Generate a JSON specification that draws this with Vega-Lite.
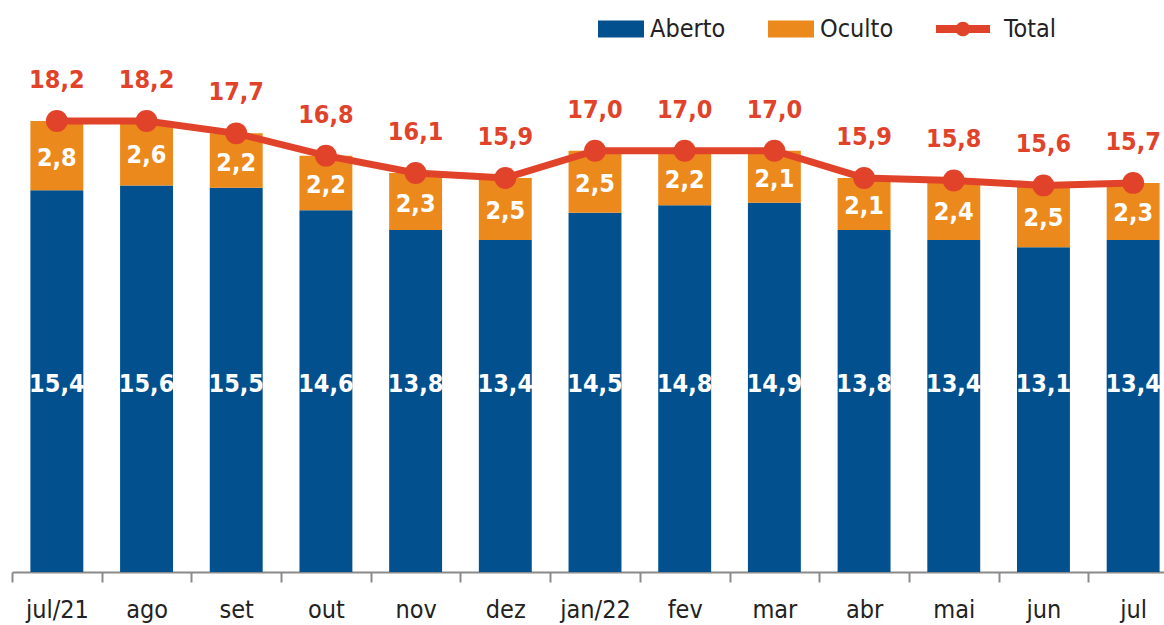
{
  "$schema": "https://vega.github.io/schema/vega-lite/v6.json",
  "width": 1152,
  "height": 570,
  "autosize": {"type": "none"},
  "padding": {"left": 12, "top": 2, "right": 0, "bottom": 53},
  "background": "white",
  "config": {
    "view": {"stroke": null},
    "locale": {"number": {"decimal": ",", "thousands": ".", "grouping": [3], "currency": ["R$", ""]}},
    "font": "DejaVu Sans Condensed"
  },
  "data": {
    "values": [
      {"mes": "jul/21", "Aberto": 15.4, "Oculto": 2.8, "Total": 18.2},
      {"mes": "ago", "Aberto": 15.6, "Oculto": 2.6, "Total": 18.2},
      {"mes": "set", "Aberto": 15.5, "Oculto": 2.2, "Total": 17.7},
      {"mes": "out", "Aberto": 14.6, "Oculto": 2.2, "Total": 16.8},
      {"mes": "nov", "Aberto": 13.8, "Oculto": 2.3, "Total": 16.1},
      {"mes": "dez", "Aberto": 13.4, "Oculto": 2.5, "Total": 15.9},
      {"mes": "jan/22", "Aberto": 14.5, "Oculto": 2.5, "Total": 17.0},
      {"mes": "fev", "Aberto": 14.8, "Oculto": 2.2, "Total": 17.0},
      {"mes": "mar", "Aberto": 14.9, "Oculto": 2.1, "Total": 17.0},
      {"mes": "abr", "Aberto": 13.8, "Oculto": 2.1, "Total": 15.9},
      {"mes": "mai", "Aberto": 13.4, "Oculto": 2.4, "Total": 15.8},
      {"mes": "jun", "Aberto": 13.1, "Oculto": 2.5, "Total": 15.6},
      {"mes": "jul", "Aberto": 13.4, "Oculto": 2.3, "Total": 15.7}
    ]
  },
  "encoding": {
    "x": {
      "field": "mes",
      "type": "nominal",
      "sort": null,
      "scale": {"range": [0, 1166], "paddingInner": 0.41, "paddingOuter": 0.205},
      "axis": {
        "title": null,
        "labelAngle": 0,
        "labelFont": "DejaVu Sans Condensed",
        "labelFontSize": 25,
        "labelColor": "#222222",
        "labelPadding": 15,
        "tickOffset": -44.85,
        "labelOffset": 44.85,
        "domainColor": "#8a8a8a",
        "domainWidth": 2,
        "tickColor": "#8a8a8a",
        "tickWidth": 2,
        "tickSize": 10
      }
    }
  },
  "layer": [
    {
      "transform": [{"fold": ["Aberto", "Oculto"], "as": ["serie", "valor"]}],
      "mark": {"type": "bar"},
      "encoding": {
        "y": {"field": "valor", "type": "quantitative", "stack": "zero", "scale": {"domain": [0, 23], "nice": false, "zero": true}, "axis": null},
        "color": {
          "field": "serie",
          "type": "nominal",
          "scale": {"domain": ["Aberto", "Oculto", "Total"], "range": ["#02518E", "#EC891D", "#E0432A"]},
          "legend": {
            "title": null,
            "orient": "none",
            "legendX": 586,
            "legendY": 4,
            "direction": "horizontal",
            "symbolSize": 2116,
            "labelFont": "DejaVu Sans Condensed",
            "labelFontSize": 25,
            "labelColor": "#222222",
            "labelOffset": 6,
            "columnPadding": 42,
            "padding": 0,
            "encode": {
              "symbols": {
                "update": {
                  "shape": {"signal": "datum.value === 'Total' ? 'M-1,-0.17H1.35V0.17H-1Z M0.49,0A0.32,0.32 0 1,1 -0.15,0A0.32,0.32 0 1,1 0.49,0Z' : 'M-1,-0.37H1V0.37H-1Z'"},
                  "fill": {"signal": "scale('color', datum.value)"},
                  "stroke": {"value": "transparent"},
                  "strokeWidth": {"value": 0},
                  "opacity": {"value": 1}
                }
              },
              "labels": {
                "update": {
                  "dx": {"signal": "datum.value === 'Total' ? 16 : 0"}
                }
              }
            }
          }
        },
        "order": {"field": "serie", "sort": "ascending"}
      }
    },
    {
      "mark": {"type": "text", "font": "DejaVu Sans Condensed", "fontWeight": "bold", "fontSize": 25, "color": "white", "baseline": "middle", "align": "center"},
      "encoding": {
        "y": {"datum": 7.6, "type": "quantitative"},
        "text": {"field": "Aberto", "type": "quantitative", "format": ".1f"}
      }
    },
    {
      "transform": [
        {"fold": ["Aberto", "Total"], "as": ["k", "v"]},
        {"aggregate": [{"op": "mean", "field": "v", "as": "meio"}], "groupby": ["mes", "Oculto"]}
      ],
      "mark": {"type": "text", "font": "DejaVu Sans Condensed", "fontWeight": "bold", "fontSize": 25, "color": "white", "baseline": "middle", "align": "center", "dy": 2},
      "encoding": {
        "x": {"field": "mes", "type": "nominal", "sort": ["jul/21", "ago", "set", "out", "nov", "dez", "jan/22", "fev", "mar", "abr", "mai", "jun", "jul"]},
        "y": {"field": "meio", "type": "quantitative"},
        "text": {"field": "Oculto", "type": "quantitative", "format": ".1f"}
      }
    },
    {
      "mark": {"type": "line", "strokeWidth": 7, "point": {"filled": true, "size": 480, "opacity": 1}},
      "encoding": {
        "y": {"field": "Total", "type": "quantitative"},
        "color": {"datum": "Total"}
      }
    },
    {
      "mark": {"type": "text", "font": "DejaVu Sans Condensed", "fontWeight": "bold", "fontSize": 25, "color": "#E0432A", "baseline": "middle", "align": "center", "dy": -41},
      "encoding": {
        "y": {"field": "Total", "type": "quantitative"},
        "text": {"field": "Total", "type": "quantitative", "format": ".1f"}
      }
    }
  ]
}
